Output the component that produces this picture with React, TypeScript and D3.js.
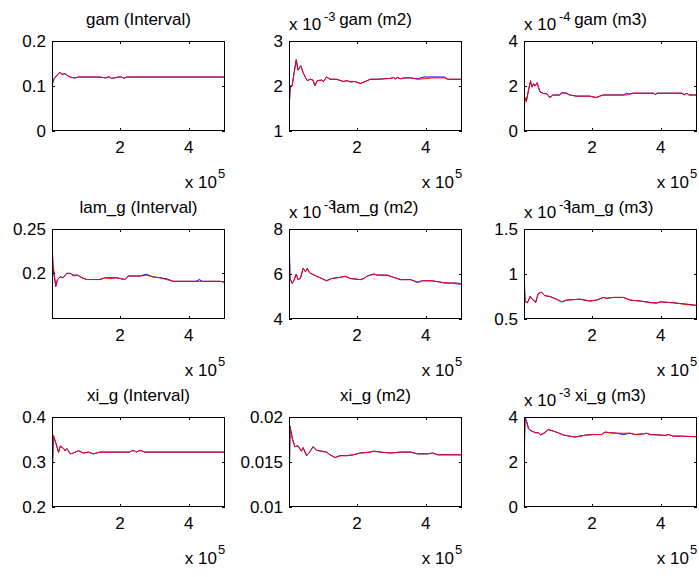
import React from 'react';
import * as d3 from 'd3';

// ---------- shared axis data ----------
const X_DOMAIN: [number, number] = [0.03, 5.05]; // in units of 1e5
const X_TICKS = [2, 4];

const titles = [
  'gam (Interval)', 'gam (m2)', 'gam (m3)',
  'lam_g (Interval)', 'lam_g (m2)', 'lam_g (m3)',
  'xi_g (Interval)', 'xi_g (m2)', 'xi_g (m3)',
];
const yDomains: [number, number][] = [
  [0, 0.2], [1, 3], [0, 4],
  [0.1485, 0.25], [4, 8], [0.5, 1.5],
  [0.2, 0.4], [0.01, 0.02], [0, 4],
];
const yTicks = [
  [0, 0.1, 0.2], [1, 2, 3], [0, 2, 4],
  [0.2, 0.25], [4, 6, 8], [0.5, 1, 1.5],
  [0.2, 0.3, 0.4], [0.01, 0.015, 0.02], [0, 2, 4],
];
const yTickLabels = [
  ['0', '0.1', '0.2'], ['1', '2', '3'], ['0', '2', '4'],
  ['0.2', '0.25'], ['4', '6', '8'], ['0.5', '1', '1.5'],
  ['0.2', '0.3', '0.4'], ['0.01', '0.015', '0.02'], ['0', '2', '4'],
];
const yExponents = ['', '-3', '-4', '', '-3', '-3', '', '', '-3'];

// ---------- series data (x in 1e5, y in displayed units) ----------
const x1 = [0.03, 0.06, 0.1, 0.15, 0.2, 0.26, 0.3, 0.35, 0.4, 0.45, 0.5, 0.6, 0.7, 0.8, 1.0, 1.2, 1.4, 1.6, 1.65, 1.7, 1.75, 1.85, 1.95, 2.05, 2.12, 2.2, 2.5, 3.0, 3.5, 4.0, 4.5, 5.05];
const red1 = [0.100, 0.112, 0.118, 0.122, 0.126, 0.131, 0.127, 0.126, 0.128, 0.125, 0.122, 0.119, 0.118, 0.120, 0.120, 0.120, 0.120, 0.118, 0.120, 0.120, 0.117, 0.118, 0.120, 0.120, 0.117, 0.120, 0.120, 0.120, 0.120, 0.120, 0.120, 0.120];
const blue1 = [0.095, 0.110, 0.117, 0.121, 0.126, 0.130, 0.127, 0.126, 0.127, 0.125, 0.122, 0.119, 0.118, 0.120, 0.120, 0.120, 0.120, 0.118, 0.120, 0.120, 0.117, 0.118, 0.120, 0.120, 0.117, 0.120, 0.120, 0.120, 0.120, 0.120, 0.120, 0.120];

const x2 = [0.03, 0.07, 0.12, 0.18, 0.24, 0.29, 0.37, 0.44, 0.5, 0.56, 0.65, 0.73, 0.78, 0.85, 0.98, 1.03, 1.12, 1.22, 1.41, 1.61, 1.71, 1.81, 1.95, 2.1, 2.24, 2.39, 2.59, 2.98, 3.07, 3.12, 3.17, 3.27, 3.37, 3.56, 3.76, 3.95, 4.15, 4.54, 4.64, 5.05];
const red2 = [1.48, 2.0, 2.0, 2.3, 2.59, 2.35, 2.45, 2.3, 2.2, 2.12, 2.15, 2.13, 2.0, 2.12, 2.13, 2.1, 2.2, 2.15, 2.15, 2.1, 2.12, 2.09, 2.1, 2.05, 2.1, 2.15, 2.15, 2.17, 2.19, 2.15, 2.19, 2.16, 2.18, 2.18, 2.15, 2.16, 2.18, 2.18, 2.15, 2.15];
const blue2 = [1.5, 2.0, 2.0, 2.3, 2.58, 2.36, 2.45, 2.3, 2.2, 2.12, 2.15, 2.13, 2.01, 2.12, 2.13, 2.1, 2.2, 2.15, 2.15, 2.1, 2.12, 2.09, 2.1, 2.06, 2.1, 2.15, 2.15, 2.17, 2.19, 2.16, 2.19, 2.16, 2.18, 2.18, 2.16, 2.2, 2.2, 2.2, 2.15, 2.15];

const x3 = [0.03, 0.06, 0.1, 0.16, 0.22, 0.26, 0.31, 0.35, 0.41, 0.49, 0.58, 0.7, 0.78, 0.87, 1.07, 1.12, 1.26, 1.36, 1.55, 1.94, 2.12, 2.23, 2.33, 2.91, 3.01, 3.06, 3.2, 3.79, 3.84, 3.89, 4.61, 4.68, 4.76, 4.81, 5.07];
const red3 = [0.93, 1.49, 1.3, 1.82, 2.24, 1.95, 2.1, 2.0, 2.15, 1.75, 1.67, 1.65, 1.48, 1.6, 1.6, 1.7, 1.68, 1.6, 1.55, 1.55, 1.48, 1.55, 1.6, 1.6, 1.6, 1.62, 1.68, 1.68, 1.6, 1.68, 1.68, 1.6, 1.68, 1.6, 1.6];
const blue3 = [1.0, 1.45, 1.35, 1.8, 2.2, 1.95, 2.1, 2.0, 2.14, 1.75, 1.67, 1.65, 1.5, 1.6, 1.6, 1.7, 1.68, 1.6, 1.55, 1.55, 1.49, 1.55, 1.6, 1.6, 1.68, 1.64, 1.68, 1.68, 1.62, 1.68, 1.68, 1.62, 1.68, 1.6, 1.6];

const x4 = [0.03, 0.06, 0.14, 0.19, 0.27, 0.35, 0.46, 0.56, 0.65, 0.77, 0.9, 1.04, 1.18, 1.42, 1.57, 1.71, 1.9, 2.15, 2.24, 2.58, 2.77, 2.96, 3.16, 3.35, 3.54, 4.21, 4.3, 4.4, 4.9, 5.05];
const red4 = [0.234, 0.21, 0.186, 0.193, 0.196, 0.195, 0.2, 0.2, 0.197, 0.198, 0.195, 0.193, 0.193, 0.193, 0.195, 0.194, 0.195, 0.193, 0.197, 0.197, 0.198, 0.196, 0.195, 0.193, 0.191, 0.191, 0.191, 0.191, 0.191, 0.19];
const blue4 = [0.238, 0.205, 0.185, 0.193, 0.196, 0.195, 0.2, 0.2, 0.198, 0.198, 0.195, 0.193, 0.193, 0.193, 0.195, 0.195, 0.195, 0.193, 0.197, 0.197, 0.199, 0.196, 0.195, 0.194, 0.191, 0.191, 0.193, 0.191, 0.191, 0.19];

const x5 = [0.03, 0.06, 0.12, 0.17, 0.24, 0.29, 0.36, 0.44, 0.51, 0.56, 0.63, 0.83, 0.98, 1.12, 1.27, 1.51, 1.66, 1.81, 2.1, 2.2, 2.29, 2.49, 2.59, 2.88, 3.07, 3.27, 3.56, 3.76, 3.9, 4.15, 4.39, 4.54, 4.78, 4.91, 5.05];
const red5 = [7.6, 5.8, 5.58, 5.7, 6.0, 5.75, 5.8, 6.25, 6.1, 6.25, 6.05, 5.9, 5.8, 5.7, 5.8, 5.85, 5.9, 5.8, 5.75, 5.8, 5.9, 6.0, 5.95, 5.95, 5.85, 5.75, 5.75, 5.65, 5.7, 5.7, 5.65, 5.6, 5.6, 5.55, 5.55];
const blue5 = [8.0, 5.8, 5.58, 5.7, 6.0, 5.75, 5.8, 6.25, 6.1, 6.25, 6.05, 5.9, 5.8, 5.7, 5.8, 5.85, 5.9, 5.8, 5.75, 5.8, 5.9, 6.0, 5.95, 5.95, 5.85, 5.75, 5.75, 5.62, 5.7, 5.7, 5.65, 5.6, 5.6, 5.6, 5.55];

const x6 = [0.03, 0.06, 0.13, 0.21, 0.27, 0.37, 0.44, 0.53, 0.63, 0.78, 0.97, 1.12, 1.26, 1.65, 1.94, 2.14, 2.33, 2.43, 2.62, 2.91, 3.11, 3.4, 3.69, 3.88, 3.98, 4.37, 4.76, 5.07];
const red6 = [0.95, 0.69, 0.68, 0.754, 0.72, 0.68, 0.78, 0.8, 0.76, 0.75, 0.72, 0.69, 0.71, 0.72, 0.7, 0.71, 0.739, 0.73, 0.74, 0.74, 0.71, 0.7, 0.68, 0.68, 0.69, 0.68, 0.66, 0.65];
const blue6 = [1.1, 0.7, 0.68, 0.75, 0.72, 0.69, 0.78, 0.8, 0.76, 0.75, 0.72, 0.69, 0.71, 0.72, 0.7, 0.71, 0.74, 0.73, 0.74, 0.74, 0.71, 0.7, 0.685, 0.675, 0.69, 0.68, 0.665, 0.65];

const x7 = [0.03, 0.07, 0.15, 0.22, 0.27, 0.37, 0.41, 0.46, 0.56, 0.65, 0.8, 0.94, 1.09, 1.23, 1.42, 2.29, 2.34, 2.42, 2.48, 2.55, 2.63, 2.72, 5.05];
const red7 = [0.26, 0.36, 0.34, 0.321, 0.336, 0.33, 0.325, 0.33, 0.318, 0.32, 0.325, 0.32, 0.322, 0.318, 0.322, 0.322, 0.325, 0.325, 0.322, 0.325, 0.325, 0.322, 0.322];
const blue7 = [0.24, 0.358, 0.34, 0.322, 0.335, 0.33, 0.325, 0.33, 0.318, 0.32, 0.325, 0.32, 0.322, 0.318, 0.322, 0.322, 0.325, 0.325, 0.322, 0.325, 0.325, 0.322, 0.322];

const x8 = [0.03, 0.06, 0.13, 0.2, 0.29, 0.39, 0.44, 0.54, 0.63, 0.73, 0.83, 0.98, 1.12, 1.22, 1.37, 1.51, 1.71, 1.9, 2.1, 2.39, 2.49, 2.68, 2.98, 3.27, 3.56, 3.76, 4.05, 4.2, 4.34, 5.05];
const red8 = [0.01, 0.0188, 0.0175, 0.0167, 0.0168, 0.0162, 0.0166, 0.0157, 0.0161, 0.0167, 0.0163, 0.0162, 0.0161, 0.0158, 0.0155, 0.0157, 0.0157, 0.0158, 0.016, 0.0161, 0.0162, 0.0161, 0.016, 0.0161, 0.0161, 0.0159, 0.0159, 0.016, 0.0158, 0.0158];
const blue8 = [0.011, 0.019, 0.0176, 0.0167, 0.0168, 0.0162, 0.0166, 0.0157, 0.0161, 0.0167, 0.0163, 0.0162, 0.0161, 0.0158, 0.0155, 0.0157, 0.0157, 0.0158, 0.016, 0.0161, 0.0162, 0.0161, 0.016, 0.0161, 0.0161, 0.0159, 0.0159, 0.016, 0.0158, 0.0158];

const x9 = [0.03, 0.06, 0.1, 0.16, 0.21, 0.29, 0.37, 0.45, 0.51, 0.63, 0.73, 0.87, 1.02, 1.17, 1.36, 1.51, 1.65, 1.85, 2.04, 2.28, 2.38, 2.52, 2.72, 2.91, 3.11, 3.25, 3.5, 3.59, 3.69, 3.98, 4.13, 4.22, 4.37, 4.56, 5.07];
const red9 = [1.66, 3.9, 3.8, 3.47, 3.4, 3.35, 3.3, 3.3, 3.21, 3.3, 3.44, 3.38, 3.3, 3.2, 3.15, 3.11, 3.15, 3.2, 3.22, 3.22, 3.33, 3.3, 3.28, 3.28, 3.28, 3.22, 3.25, 3.28, 3.22, 3.2, 3.18, 3.22, 3.15, 3.15, 3.12];
const blue9 = [2.0, 4.0, 3.85, 3.5, 3.42, 3.35, 3.3, 3.3, 3.21, 3.3, 3.44, 3.38, 3.3, 3.2, 3.15, 3.11, 3.15, 3.2, 3.22, 3.22, 3.33, 3.3, 3.28, 3.22, 3.28, 3.22, 3.25, 3.28, 3.22, 3.2, 3.18, 3.22, 3.15, 3.15, 3.12];

const seriesX = [x1, x2, x3, x4, x5, x6, x7, x8, x9];
const seriesRed = [red1, red2, red3, red4, red5, red6, red7, red8, red9];
const seriesBlue = [blue1, blue2, blue3, blue4, blue5, blue6, blue7, blue8, blue9];

// ---------- layout ----------
const W = 699;
const H = 577;
const colLeft = [52, 289, 524];
const rowTop = [41, 229, 417];
const boxW = 173;
const boxH = 90;
const FONT = 'Arial, "Liberation Sans", Helvetica, sans-serif';
const FS = 17;
const SUP = 13;
const TICK = 3;

function Panel({ i }: { i: number }) {
  const col = i % 3;
  const row = Math.floor(i / 3);
  const left = colLeft[col];
  const top = rowTop[row];
  const right = left + boxW;
  const bottom = top + boxH;

  const x = d3.scaleLinear().domain(X_DOMAIN).range([left, right]);
  const y = d3.scaleLinear().domain(yDomains[i]).range([bottom, top]);
  const xs = seriesX[i];
  const line = d3
    .line<number>()
    .x((_, k) => x(xs[k]))
    .y((v) => y(v));

  const clipId = `clip-${i}`;
  const exp = yExponents[i];

  return (
    <g>
      <defs>
        <clipPath id={clipId}>
          <rect x={left} y={top} width={boxW} height={boxH} />
        </clipPath>
      </defs>
      <rect x={left} y={top} width={boxW} height={boxH} fill="#fff" />
      <g clipPath={`url(#${clipId})`}>
        <path d={line(seriesBlue[i]) || ''} fill="none" stroke="#0000ff" strokeWidth={1} />
        <path d={line(seriesRed[i]) || ''} fill="none" stroke="#ff0000" strokeWidth={1} />
      </g>
      <rect x={left + 0.5} y={top + 0.5} width={boxW - 1} height={boxH - 1} fill="none" stroke="#000" strokeWidth={1} />
      {X_TICKS.map((t) => {
        const px = Math.round(x(t)) + 0.5;
        return (
          <g key={`xt${t}`}>
            <line x1={px} x2={px} y1={bottom} y2={bottom - TICK} stroke="#000" />
            <line x1={px} x2={px} y1={top} y2={top + TICK} stroke="#000" />
            <text x={x(t)} y={bottom + 22} textAnchor="middle" fontFamily={FONT} fontSize={FS}>
              {String(t)}
            </text>
          </g>
        );
      })}
      {yTicks[i].map((t, k) => {
        const py = Math.round(y(t)) + 0.5;
        return (
          <g key={`yt${k}`}>
            <line x1={left} x2={left + TICK} y1={py} y2={py} stroke="#000" />
            <line x1={right} x2={right - TICK} y1={py} y2={py} stroke="#000" />
            <text x={left - 6} y={y(t) + 6} textAnchor="end" fontFamily={FONT} fontSize={FS}>
              {yTickLabels[i][k]}
            </text>
          </g>
        );
      })}
      {/* x exponent label */}
      <text x={right - 8} y={bottom + 57} textAnchor="end" fontFamily={FONT} fontSize={FS}>
        x 10
      </text>
      <text x={right - 7} y={bottom + 47} textAnchor="start" fontFamily={FONT} fontSize={SUP}>
        5
      </text>
      {/* y exponent label */}
      {exp && (
        <g>
          <text x={left} y={top - 11} textAnchor="start" fontFamily={FONT} fontSize={FS}>
            x 10
          </text>
          <text x={left + 35} y={top - 20} textAnchor="start" fontFamily={FONT} fontSize={SUP}>
            {exp}
          </text>
        </g>
      )}
      {/* title */}
      <text x={(left + right) / 2} y={top - 16} textAnchor="middle" fontFamily={FONT} fontSize={FS}>
        {titles[i]}
      </text>
    </g>
  );
}

export default function App() {
  return (
    <svg
      width={W}
      height={H}
      viewBox={`0 0 ${W} ${H}`}
      style={{ position: 'absolute', left: 0, top: 0, background: '#fff', display: 'block' }}
    >
      <rect x={0} y={0} width={W} height={H} fill="#fff" />
      {titles.map((_, i) => (
        <Panel key={i} i={i} />
      ))}
    </svg>
  );
}
